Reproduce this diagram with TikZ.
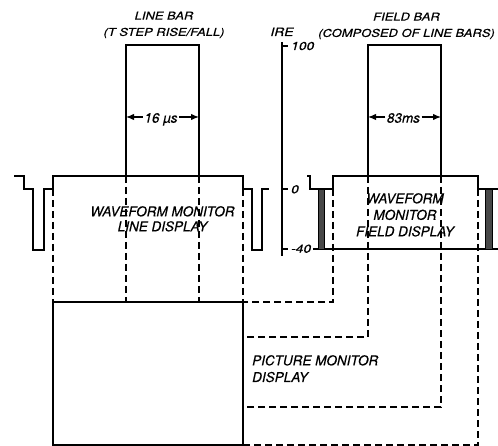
\documentclass[tikz,border=0pt]{standalone}
\usepackage{fontspec}
\setmainfont{TeX Gyre Heros}[FakeBold=0.4]
\newfontfamily\widefont{TeX Gyre Heros}[FakeStretch=1.2, FakeBold=0.4]
\usetikzlibrary{arrows.meta}

\tikzset{
  trace/.style={line width=1.6pt},
  guide/.style={line width=1.4pt, dash pattern=on 7pt off 4pt},
  syncbar/.style={draw, line width=0.9pt, fill=black!72},
  dimarrow/.style={-{Latex[length=8pt,width=6.5pt]}, line width=1.3pt},
  barlabel/.style={font=\widefont\itshape\fontsize{10.8}{16.3}\selectfont, align=center, inner sep=0pt, anchor=north},
  displabel/.style={font=\itshape\fontsize{13.5}{15}\selectfont, align=center, inner sep=0pt, anchor=north},
  scalelabel/.style={font=\widefont\itshape\fontsize{11.5}{13}\selectfont, inner sep=0pt, anchor=base west},
  dimlabel/.style={font=\itshape\fontsize{13.5}{16}\selectfont, inner sep=1.5pt, anchor=base},
}

\begin{document}
\begin{tikzpicture}[x=1pt, y=-1pt]
\useasboundingbox (0,0) rectangle (498,446);

% Line bar
\draw[trace] (126,176) -- (126,45) -- (199,45) -- (199,176);
\node[barlabel] (linebar) at (164,11.5) {LINE BAR\\(T STEP RISE/FALL)};
\coordinate (lbL) at (126,117);
\coordinate (lbR) at (199,117);
\node[dimlabel] (lbwidth) at (161,122.7) {16 µs};
\draw[dimarrow] (lbwidth.west |- lbL) -- (lbL);
\draw[dimarrow] (lbwidth.east |- lbR) -- (lbR);

% Waveform monitor, line display
\draw[trace] (14,176) -- (24,176) -- (24,189) -- (33,189) -- (33,250) -- (44,250) -- (44,189)
  -- (53,189) -- (53,176) -- (243,176) -- (243,189) -- (252,189) -- (252,250) -- (262,250)
  -- (262,189) -- (269,189);
\node[displabel] (linedisp) at (162.5,206) {WAVEFORM MONITOR\\LINE DISPLAY};
\draw[guide] (53,189) -- (53,302);
\draw[guide] (126,176) -- (126,302);
\draw[guide] (199,176) -- (199,302);
\draw[guide] (243,189) -- (243,302);

% IRE scale
\draw[trace] (282,42) -- (282,256);
\foreach \yy in {46,189,249}
  \draw[trace] (282,\yy) -- (288,\yy);
\node[scalelabel, anchor=base] (ire) at (282,36) {IRE};
\node[scalelabel] (ire100) at (291,50) {100};
\node[scalelabel] (ire0) at (291,193.3) {0};
\node[scalelabel] (ire40) at (291,252.7) {-40};

% Field bar
\draw[trace] (368,176) -- (368,45) -- (441,45) -- (441,176);
\node[barlabel] (fieldbar) at (406.5,12.5) {FIELD BAR\\(COMPOSED OF LINE BARS)};
\coordinate (fbL) at (368,117);
\coordinate (fbR) at (441,117);
\node[dimlabel] (fbwidth) at (403.5,122.7) {83ms};
\draw[dimarrow] (fbwidth.west |- fbL) -- (fbL);
\draw[dimarrow] (fbwidth.east |- fbR) -- (fbR);

% Waveform monitor, field display
\draw[trace] (307,176) -- (310,176) -- (310,189) -- (333,189) -- (333,176) -- (478,176)
  -- (478,189) -- (498,189);
\draw[trace] (313,249) -- (498,249);
\draw[syncbar] (318,189) rectangle (324,249);
\draw[syncbar] (485,189) rectangle (492,249);
\node[displabel, font=\itshape\fontsize{13.5}{16.5}\selectfont] (fielddisp) at (405,193)
  {WAVEFORM\\MONITOR\\FIELD DISPLAY};

% Picture monitor
\draw[trace] (53,302) rectangle (243,445);
\node[displabel, align=left, anchor=north west, font=\itshape\fontsize{13.5}{16.7}\selectfont]
  (picmon) at (252,355) {PICTURE MONITOR\\DISPLAY};

% Dashed return lines
\draw[guide] (333,189) -- (333,302) -- (243,302);
\draw[guide] (368,176) -- (368,337) -- (243,337);
\draw[guide] (441,176) -- (441,407) -- (243,407);
\draw[guide] (478,189) -- (478,445) -- (243,445);
\end{tikzpicture}
\end{document}
